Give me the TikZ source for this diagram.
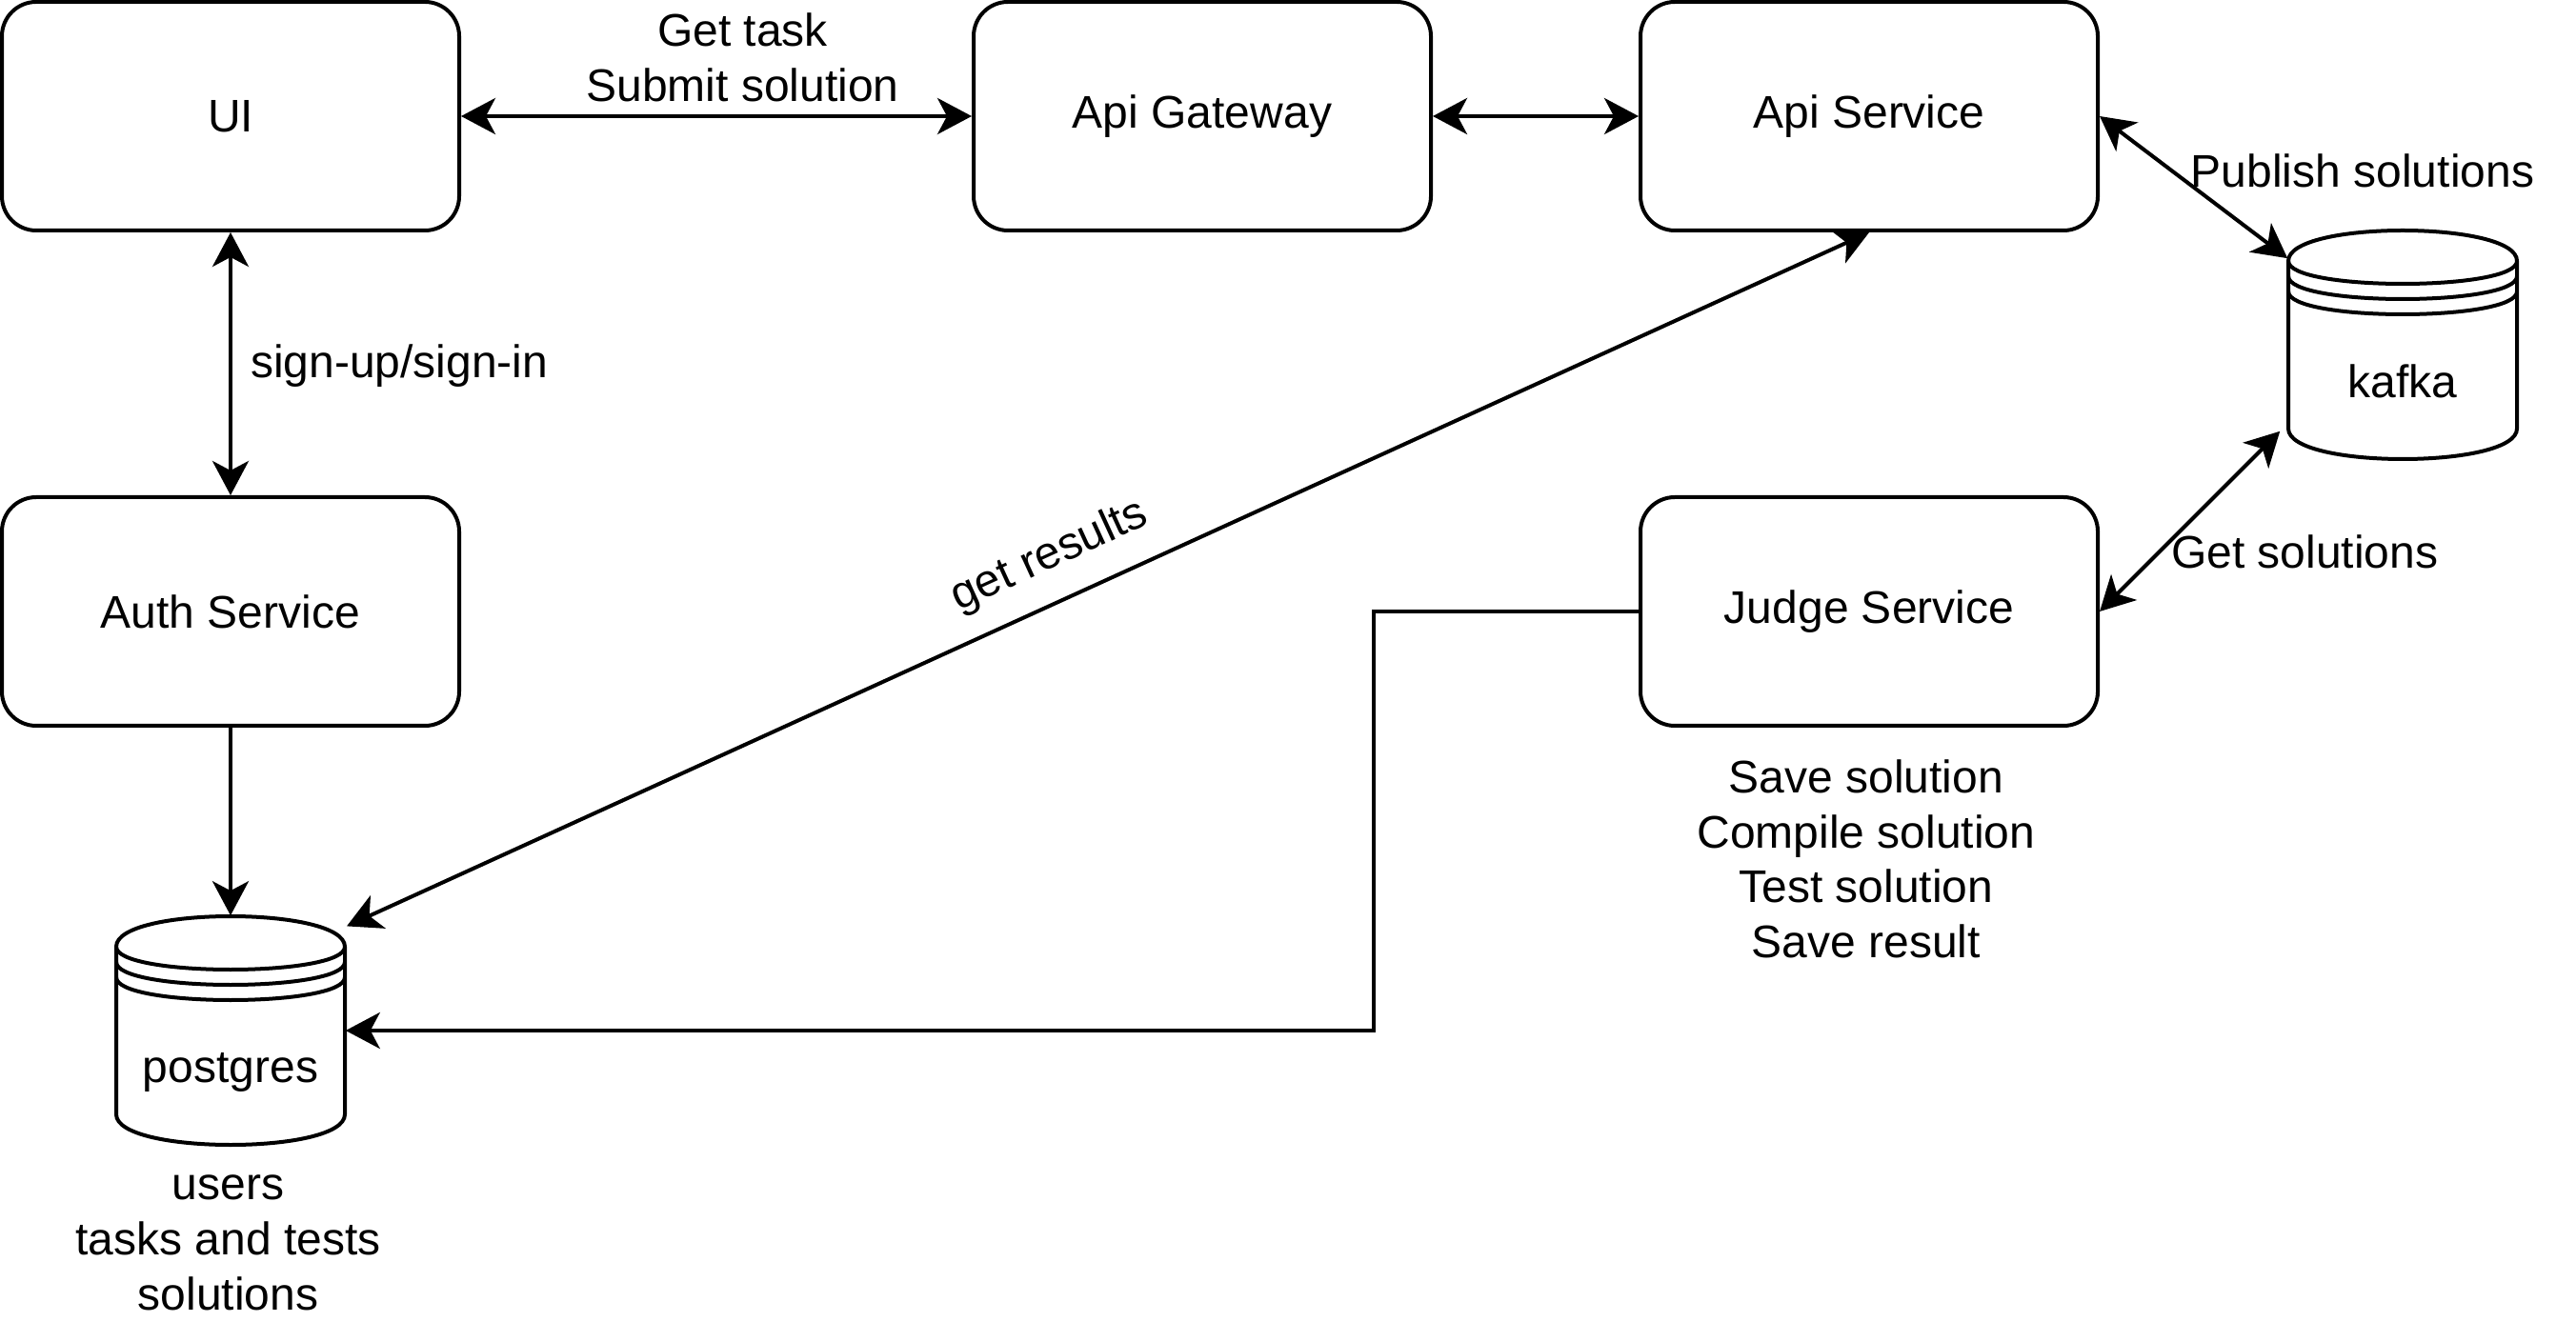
\documentclass[tikz,border=0pt]{standalone}
\usepackage{fontspec}
\setmainfont{Liberation Sans}
\usetikzlibrary{arrows.meta,calc}
\tikzset{
  box/.style={draw, line width=1pt, rounded corners=9pt, minimum width=120pt, minimum height=60pt, inner sep=0pt, fill=white},
  dbbox/.style={minimum width=60pt, minimum height=60pt, inner sep=0pt},
  txt/.style={inner sep=0pt, align=center},
  conn/.style={line width=1pt, {Stealth[length=9pt,width=9.5pt,inset=2.5pt]}-{Stealth[length=9pt,width=9.5pt,inset=2.5pt]}},
  conn1/.style={line width=1pt, -{Stealth[length=9pt,width=9.5pt,inset=2.5pt]}},
  pics/datastore/.style={code={
    \draw[line width=1pt, fill=white] (0,8) .. controls (0,-2.667) and (60,-2.667) .. (60,8) -- (60,52) .. controls (60,62.667) and (0,62.667) .. (0,52) -- cycle;
    \draw[line width=1pt] (0,8) .. controls (0,16) and (60,16) .. (60,8);
    \draw[line width=1pt] (0,12) .. controls (0,20) and (60,20) .. (60,12);
    \draw[line width=1pt] (0,16) .. controls (0,24) and (60,24) .. (60,16);
  }}
}
\begin{document}
\begin{tikzpicture}[x=1pt,y=-1pt,font=\fontsize{12pt}{14.4pt}\selectfont]
\useasboundingbox (0,0) rectangle (676,347);
% boxes
\node[box] (ui) at (60.5,30.5) {UI};
\node[box] (gw) at (315.5,30.5) {Api Gateway};
\node[box] (api) at (490.5,30.5) {Api Service};
\node[box] (auth) at (60.5,160.5) {Auth Service};
\node[box] (judge) at (490.5,160.5) {Judge Service};
% datastores
\pic at (600.5,60.5) {datastore};
\node[dbbox] (kf) at (630.5,90.5) {};
\node[txt] (kflabel) at (630.5,100) {kafka};
\pic at (30.5,240.5) {datastore};
\node[dbbox] (pg) at (60.5,270.5) {};
\node[txt] (pglabel) at (60.5,281.5) {postgres};
% connectors
\draw[conn] (ui.east) -- (gw.west);
\draw[conn] (gw.east) -- (api.west);
\draw[conn] (api.east) -- ([yshift=-7.5pt]kf.north west);
\draw[conn] (judge.east) -- ([xshift=-2pt,yshift=7.5pt]kf.south west);
\draw[conn] (ui.south) -- (auth.north);
\draw[conn1] (auth.south) -- (pg.north);
\draw[conn] (api.south) -- ([xshift=0.3pt,yshift=-2.8pt]pg.north east);
\draw[conn1] (judge.west) -| (360.5,270.5) -- (pg.east);
% labels
\node[txt] (l1) at (194.9,15.1) {Get task\\Submit solution};
\node[txt] (l2) at (620,44.8) {Publish solutions};
\node[txt] (l3) at (604.8,144.8) {Get solutions};
\node[txt] (l4) at (104.8,96) {sign-up/sign-in};
\node[txt, rotate=24.6] (l5) at (275.5,146) {get results};
\node[txt] (l6) at (489.7,225.5) {Save solution\\Compile solution\\Test solution\\Save result};
\node[txt] (l7) at (59.9,326.2) {users\\tasks and tests\\solutions};
\end{tikzpicture}
\end{document}
